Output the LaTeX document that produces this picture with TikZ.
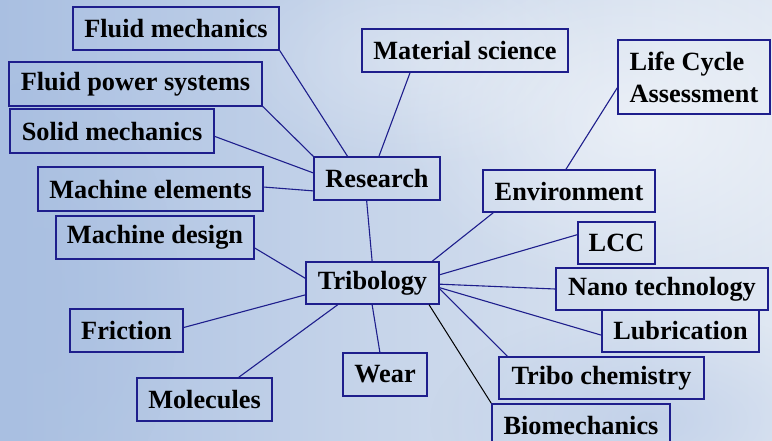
\documentclass[tikz,border=0pt]{standalone}
\usepackage{fontspec}
\setmainfont{Liberation Serif}
\usetikzlibrary{fadings}
\definecolor{navy}{HTML}{1E1E8C}
\definecolor{bgleft}{HTML}{A9BFE1}
\definecolor{bgmid}{HTML}{C7D5EA}
\definecolor{bgright}{HTML}{DFE7F2}
\definecolor{bgblue}{HTML}{B6C8E6}
\tikzfading[name=softblob, inner color=transparent!0, outer color=transparent!100]
\begin{document}
\begin{tikzpicture}[x=1pt,y=-1pt,
  bx/.style={draw=navy, line width=1.4pt, inner sep=0pt, align=center,
    font=\fontsize{26.3}{32}\selectfont\bfseries},
  ln/.style={draw=navy, line width=1.1pt},
  lnb/.style={draw=black, line width=1.0pt}]
% background
\useasboundingbox (0,0) rectangle (772,440);
\shade[left color=bgleft, right color=bgright, middle color=bgmid] (0,0) rectangle (772,440);
\begin{scope}
\clip (0,0) rectangle (772,440);
\fill[white, opacity=0.5, path fading=softblob] (640,120) ellipse [x radius=250, y radius=170];
\fill[white, opacity=0.3, path fading=softblob] (420,60) ellipse [x radius=200, y radius=110];
\fill[bgblue, opacity=0.6, path fading=softblob] (650,420) ellipse [x radius=220, y radius=110];
\fill[bgleft, opacity=0.5, path fading=softblob] (40,300) ellipse [x radius=140, y radius=220];
\end{scope}
% nodes
\node[bx, minimum width=206, minimum height=43] (fm)  at (176,28.5) {Fluid mechanics};
\node[bx, minimum width=253, minimum height=44] (fps) at (135.5,84) {Fluid power systems};
\node[bx, minimum width=204, minimum height=44] (sm)  at (112,131) {Solid mechanics};
\node[bx, minimum width=225, minimum height=44] (me)  at (150.5,189) {Machine elements};
\node[bx, minimum width=126, minimum height=43] (res) at (377,178.5) {Research};
\node[bx, minimum width=206, minimum height=43] (ms)  at (465,50.5) {Material science};
\node[bx, minimum width=152, minimum height=74, align=left] (lca) at (694,77) {Life Cycle\\Assessment};
\node[bx, minimum width=172, minimum height=42] (env) at (569,191) {Environment};
\node[bx, minimum width=198, minimum height=43] (md)  at (155,237.5) {Machine design};
\node[bx, minimum width=133, minimum height=42] (tri) at (372.5,283) {Tribology};
\node[bx, minimum width=113, minimum height=43] (fr)  at (126.5,330.5) {Friction};
\node[bx, minimum width=135, minimum height=43] (mol) at (204.5,399.5) {Molecules};
\node[bx, minimum width=84,  minimum height=43] (wear) at (385,374.5) {Wear};
\node[bx, minimum width=77,  minimum height=42] (lcc) at (616.5,243) {LCC};
\node[bx, minimum width=212, minimum height=42] (nano) at (662,289) {Nano technology};
\node[bx, minimum width=157, minimum height=42] (lub) at (680.5,331) {Lubrication};
\node[bx, minimum width=205, minimum height=42] (tc)  at (601.5,378) {Tribo chemistry};
\node[bx, minimum width=178, minimum height=42] (bio) at (581,425) {Biomechanics};
% connectors
\draw[ln] (fm.-12.6) -- (res.143);
\draw[ln] (fps.-10.1) -- (res.north west);
\draw[ln] (sm.-3.9) -- (res.175.9);
\draw[ln] (me.1) -- (res.191);
\draw[ln] (ms.202) -- (res.85);
\draw[ln] (res.245) -- (tri.91);
\draw[ln] (lca.188) -- (env.98);
\draw[ln] (env.196.7) -- (tri.20.4);
\draw[ln] (lcc.168) -- (tri.7.7);
\draw[ln] (nano.west) -- (tri.-1);
\draw[ln] (lub.183) -- (tri.-4);
\draw[ln] (tc.167.6) -- (tri.-5);
\draw[lnb] (tri.-21.8) -- (bio.north west);
\draw[ln] (tri.269) -- (wear.103);
\draw[ln] (tri.212.9) -- (mol.33.5);
\draw[ln] (fr.3.5) -- (tri.190);
\draw[ln] (md.-6) -- (tri.176);
\end{tikzpicture}
\end{document}
